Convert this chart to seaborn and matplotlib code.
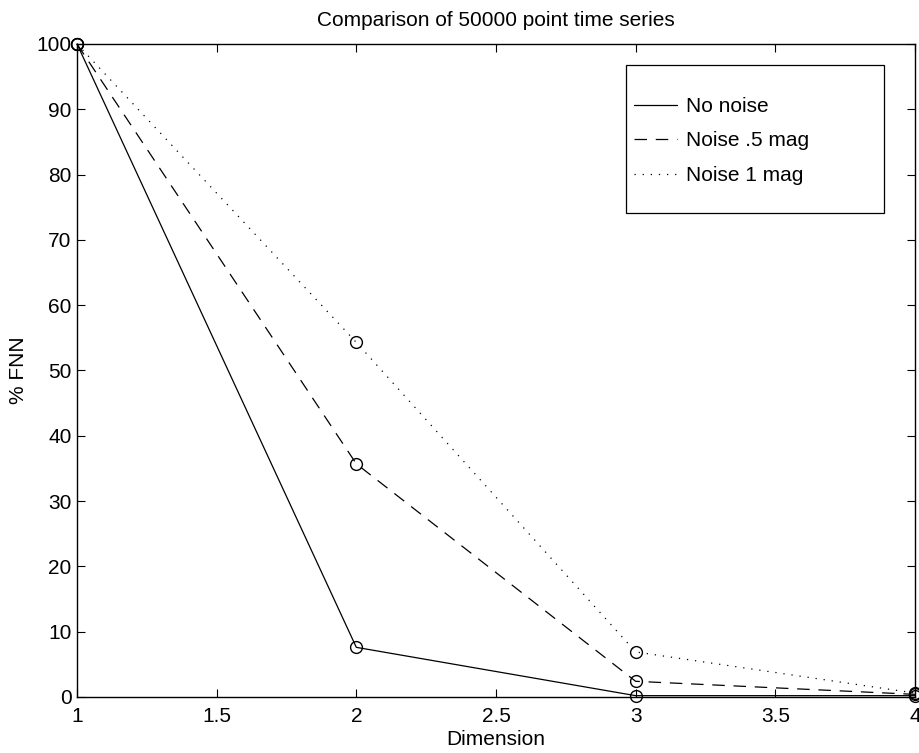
import matplotlib
matplotlib.use("Agg")
import matplotlib.pyplot as plt
from matplotlib.lines import Line2D
from matplotlib.patches import Rectangle
import pandas as pd
import seaborn as sns

# Embedding dimension and false-nearest-neighbour percentages
dimension = [1, 2, 3, 4]
no_noise = [100, 7.6, 0.2, 0.2]
noise_half_mag = [100, 35.7, 2.4, 0.4]
noise_one_mag = [100, 54.3, 6.9, 0.6]

series_names = ["No noise", "Noise .5 mag", "Noise 1 mag"]
series_values = [no_noise, noise_half_mag, noise_one_mag]
x_ticks = [1, 1.5, 2, 2.5, 3, 3.5, 4]
x_tick_labels = ["1", "1.5", "2", "2.5", "3", "3.5", "4"]
y_ticks = list(range(0, 101, 10))

sns.set_theme(style="ticks")
plt.rcParams["font.family"] = ["Liberation Sans", "DejaVu Sans"]
plt.rcParams["font.size"] = 15
plt.rcParams["text.color"] = "black"
plt.rcParams["axes.labelcolor"] = "black"

line_styles = ["-", (0, (10, 7)), (0, (1, 5.5))]

fig = plt.figure(figsize=(9.19, 7.53), dpi=100)
ax = fig.add_axes([0.0838, 0.0744, 0.9118, 0.8672])

for name, vals, ls in zip(series_names, series_values, line_styles):
    df = pd.DataFrame({"Dimension": dimension, "FNN": vals})
    sns.lineplot(data=df, x="Dimension", y="FNN", ax=ax, color="black",
                 linewidth=0.9, linestyle=ls, marker="o", markersize=8.5,
                 markerfacecolor="none", markeredgecolor="black",
                 markeredgewidth=1.0, clip_on=False, legend=False)

ax.set_xlim(1, 4)
ax.set_ylim(0, 100)
ax.set_xticks(x_ticks)
ax.set_xticklabels(x_tick_labels)
ax.set_yticks(y_ticks)
ax.tick_params(direction="in", length=6, width=0.8, top=True, right=True,
               labelsize=15, colors="black")
ax.tick_params(axis="x", pad=7)
ax.tick_params(axis="y", pad=4)
for sp in ax.spines.values():
    sp.set_visible(True)
    sp.set_linewidth(1.0)
    sp.set_color("black")

ax.set_title("Comparison of 50000 point time series", fontsize=15, pad=13,
             color="black")
ax.set_xlabel("Dimension", fontsize=15, labelpad=3)
ax.set_ylabel("% FNN", fontsize=15, labelpad=6)

# Legend frame drawn as a box, entries placed inside it
ax.add_patch(Rectangle((0.655, 0.741), 0.308, 0.227, transform=ax.transAxes,
                       facecolor="white", edgecolor="black", linewidth=0.9,
                       zorder=5))
handles = [Line2D([0], [0], color="black", linewidth=0.9, linestyle=ls)
           for ls in line_styles]
leg = ax.legend(handles, series_names, loc="upper left",
                bbox_to_anchor=(0.665, 0.919), frameon=False, fontsize=15,
                borderpad=0, borderaxespad=0, handlelength=2.06,
                handletextpad=0.43, labelspacing=0.75)
leg.set_zorder(6)

fig.savefig("out.png", dpi=100)
